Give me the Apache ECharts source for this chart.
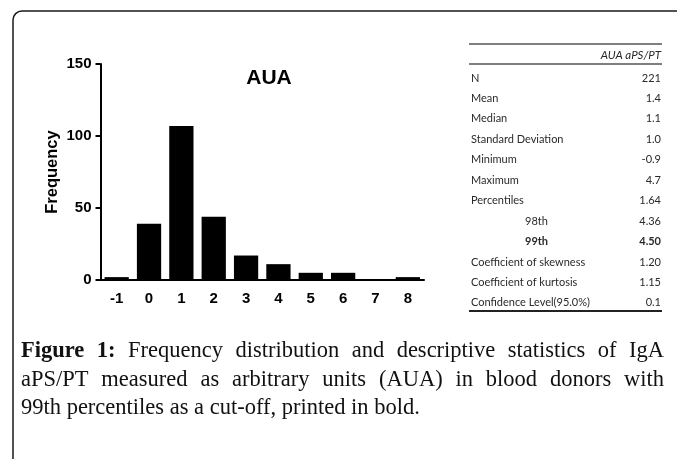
<!DOCTYPE html>
<html>
<head>
<meta charset="utf-8">
<script src="https://cdn.jsdelivr.net/npm/echarts@6/dist/echarts.min.js"></script>
<style>
html,body{margin:0;padding:0;background:#fff;}
#c{width:677px;height:459px;}
</style>
</head>
<body>
<div id="c"></div>
<script>
// ---- data ----
const categories = ['-1','0','1','2','3','4','5','6','7','8'];
const frequency = [2, 39, 107, 44, 17, 11, 5, 5, 0, 2];
const yTicks = [0, 50, 100, 150];
const chartTitle = 'AUA';
const yName = 'Frequency';

const tableHeader = 'AUA aPS/PT';
const statLabels = ['N','Mean','Median','Standard Deviation','Minimum','Maximum','Percentiles','98th','99th','Coefficient of skewness','Coefficient of kurtosis','Confidence Level(95.0%)'];
const statValues = ['221','1.4','1.1','1.0','-0.9','4.7','1.64','4.36','4.50','1.20','1.15','0.1'];
const statIndented = [false,false,false,false,false,false,false,true,true,false,false,false];
const statBold = [false,false,false,false,false,false,false,false,true,false,false,false];

const captionLines = [
  'Figure 1: Frequency distribution and descriptive statistics of IgA',
  'aPS/PT measured as arbitrary units (AUA) in blood donors with',
  '99th percentiles as a cut-off, printed in bold.'
];
const captionBoldWords = 2;

// ---- layout ----
const chart = echarts.init(document.getElementById('c'), null, {renderer:'canvas'});
const graphics = [];

// frame
graphics.push({type:'rect', shape:{x:13, y:11, width:720, height:520, r:9},
  style:{fill:'none', stroke:'#1a1a1a', lineWidth:1.5}, silent:true, z:0});

// table
const tL = 469, tR = 662;
graphics.push({type:'line', shape:{x1:tL,y1:44,x2:tR,y2:44}, style:{stroke:'#555', lineWidth:1.5}});
graphics.push({type:'line', shape:{x1:tL,y1:64,x2:tR,y2:64}, style:{stroke:'#555', lineWidth:1.5}});
graphics.push({type:'line', shape:{x1:tL,y1:311,x2:tR,y2:311}, style:{stroke:'#222', lineWidth:2}});
const tFont = '11px Lato';
graphics.push({type:'text', style:{text:tableHeader, x:661, y:55, font:'italic 11.5px Lato', fill:'#2a2a2a', align:'right', verticalAlign:'middle', textAlign:'right', textVerticalAlign:'middle'}});
statLabels.forEach((lab, i) => {
  const y = 78 + i * 20.45;
  const f = (statBold[i] ? 'bold ' : '') + tFont;
  graphics.push({type:'text', style:{text:lab, x: statIndented[i] ? 525 : 471, y:y, font:f, fill:'#2a2a2a', align:'left', verticalAlign:'middle', textAlign:'left', textVerticalAlign:'middle'}});
  graphics.push({type:'text', style:{text:statValues[i], x:661, y:y, font:f, fill:'#2a2a2a', align:'right', verticalAlign:'middle', textAlign:'right', textVerticalAlign:'middle'}});
});

// caption (justified)
const mc = document.createElement('canvas').getContext('2d');
const capSize = 22.5;
const capFam = '"Liberation Serif", "Times New Roman", serif';
const cL = 21, cR = 664;
const capY = [351.5, 380.5, 408.5];
let wordIdx = 0;
captionLines.forEach((line, li) => {
  const words = line.split(' ');
  const fonts = words.map((w) => {
    const bold = wordIdx++ < captionBoldWords;
    return (bold ? 'bold ' : '') + capSize + 'px ' + capFam;
  });
  const widths = words.map((w, k) => { mc.font = fonts[k]; return mc.measureText(w).width; });
  const total = widths.reduce((a,b)=>a+b,0);
  mc.font = capSize + 'px ' + capFam;
  const spaceW = mc.measureText(' ').width;
  const justify = li < captionLines.length - 1;
  const gap = justify ? (cR - cL - total) / (words.length - 1) : spaceW;
  let x = cL;
  words.forEach((w, k) => {
    graphics.push({type:'text', style:{text:w, x:x, y:capY[li], font:fonts[k], fill:'#111', align:'left', verticalAlign:'middle', textAlign:'left', textVerticalAlign:'middle'}});
    x += widths[k] + gap;
  });
});

const labelFont = {fontFamily:'"Liberation Sans", Arial, sans-serif', fontWeight:'bold', fontSize:15, color:'#000'};

chart.setOption({
  animation:false,
  backgroundColor:'#fff',
  title:{text:chartTitle, left:264, top:73, textAlign:'center', textVerticalAlign:'middle',
    textStyle:{fontFamily:'"Liberation Sans", Arial, sans-serif', fontWeight:'bold', fontSize:21, color:'#000'}},
  grid:{left:100.5, top:64, right:253, bottom:179, containLabel:false},
  xAxis:{type:'category', data:categories,
    axisLine:{lineStyle:{color:'#000', width:2}},
    axisTick:{alignWithLabel:true, length:5, lineStyle:{color:'#000', width:2}},
    axisLabel:Object.assign({margin:11}, labelFont)},
  yAxis:{type:'value', min:yTicks[0], max:yTicks[yTicks.length-1], interval:yTicks[1]-yTicks[0],
    name:yName, nameLocation:'middle', nameGap:40, nameRotate:90,
    nameTextStyle:{fontFamily:'"Liberation Sans", Arial, sans-serif', fontWeight:'bold', fontSize:16.5, color:'#000'},
    axisLine:{show:true, lineStyle:{color:'#000', width:2}},
    axisTick:{show:true, length:5, lineStyle:{color:'#000', width:2}},
    splitLine:{show:false},
    axisLabel:Object.assign({margin:9}, labelFont)},
  series:[{type:'bar', data:frequency, barCategoryGap:'25%', itemStyle:{color:'#000'}}],
  graphic:graphics
});
</script>
</body>
</html>
